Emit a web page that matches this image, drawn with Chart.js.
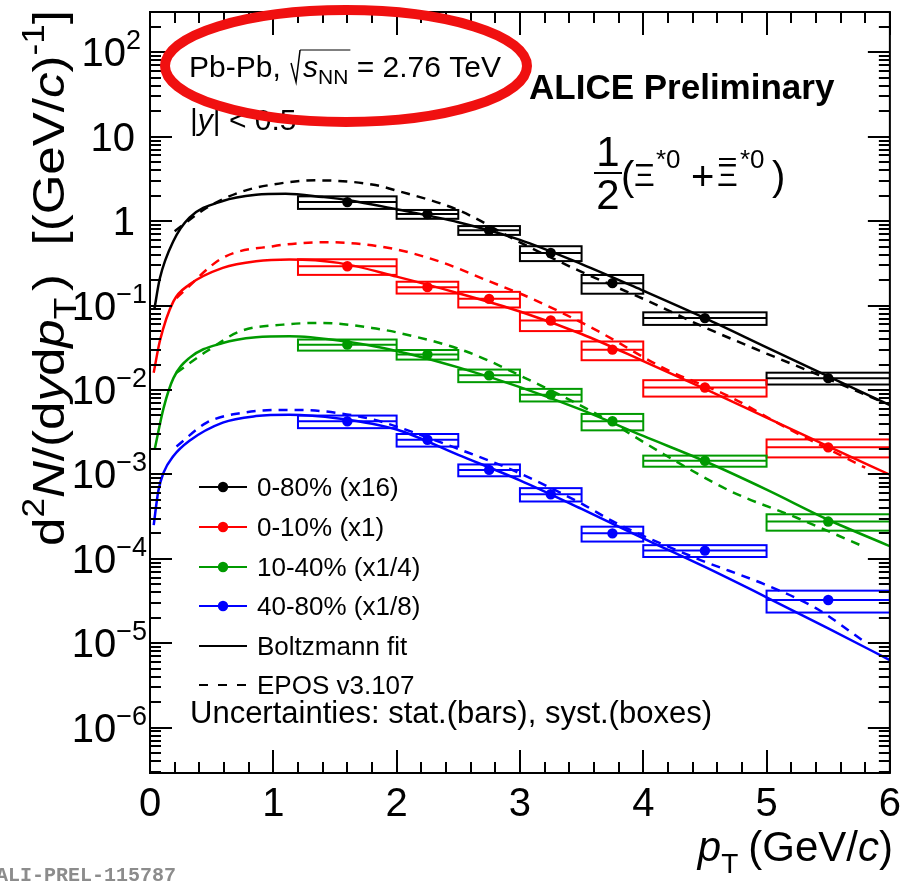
<!DOCTYPE html>
<html><head><meta charset="utf-8">
<script src="https://cdn.jsdelivr.net/npm/chart.js@4/dist/chart.umd.min.js"></script>
<style>html,body{margin:0;padding:0;background:#fff}#wrap{width:909px;height:883px;position:relative}</style>
</head><body><div id="wrap"><canvas id="c"></canvas></div>
<script>
// ---------------- data ----------------
const binLow  = [1.2, 2.0, 2.5, 3.0, 3.5, 4.0, 5.0];
const binHigh = [2.0, 2.5, 3.0, 3.5, 4.0, 5.0, 6.0];
const ptCenter = [1.6, 2.25, 2.75, 3.25, 3.75, 4.5, 5.5];

const y_0_80  = [1.68, 1.21, 0.78, 0.42, 0.184, 0.071, 0.0138];
const y_0_10  = [0.292, 0.165, 0.12, 0.0664, 0.030, 0.0107, 0.00209];
const y_10_40 = [0.0344, 0.0263, 0.0149, 0.0088, 0.00426, 0.00145, 0.000276];
const y_40_80 = [0.00425, 0.00257, 0.00113, 0.000582, 0.0002, 0.000125, 0.0000325];

const sys_0_80  = [0.17, 0.12, 0.12, 0.20, 0.25, 0.17, 0.16];
const sys_0_10  = [0.21, 0.16, 0.21, 0.25, 0.25, 0.22, 0.24];
const sys_10_40 = [0.15, 0.13, 0.17, 0.17, 0.22, 0.15, 0.22];
const sys_40_80 = [0.17, 0.17, 0.16, 0.18, 0.20, 0.16, 0.29];

const fitPt_0_80 = [0.035, 0.08, 0.19, 0.32, 0.59, 0.86, 1.1, 1.4, 1.6, 2.0, 2.5, 3.0, 3.5, 4.0, 4.5, 5.0, 5.5, 6.0];
const fit_0_80   = [0.09, 0.21, 0.58, 1.10, 1.73, 2.05, 2.11, 1.93, 1.78, 1.38, 0.97, 0.60, 0.31, 0.15, 0.071, 0.032, 0.0145, 0.0066];
const fitPt_0_10 = [0.03, 0.08, 0.19, 0.32, 0.59, 0.86, 1.13, 1.53, 2.0, 2.5, 3.0, 3.5, 4.0, 4.5, 5.0, 5.5, 6.0];
const fit_0_10   = [0.016, 0.038, 0.112, 0.177, 0.279, 0.335, 0.351, 0.32, 0.22, 0.14, 0.085, 0.046, 0.022, 0.0103, 0.0047, 0.00215, 0.00099];
const fitPt_10_40 = [0.04, 0.11, 0.19, 0.32, 0.59, 0.86, 1.13, 1.53, 2.0, 2.5, 3.0, 3.5, 4.0, 4.5, 5.0, 5.5, 6.0];
const fit_10_40   = [0.00204, 0.0061, 0.0138, 0.024, 0.036, 0.042, 0.0432, 0.0385, 0.029, 0.0185, 0.0108, 0.0058, 0.00285, 0.00143, 0.00066, 0.00029, 0.000141];
const fitPt_40_80 = [0.03, 0.067, 0.11, 0.19, 0.32, 0.59, 0.86, 1.13, 1.53, 2.0, 2.5, 3.0, 3.5, 4.0, 4.5, 5.0, 5.5, 6.0];
const fit_40_80   = [0.00025, 0.00063, 0.00105, 0.00165, 0.0025, 0.0041, 0.0049, 0.0051, 0.0046, 0.0034, 0.0017, 0.00085, 0.00039, 0.000175, 0.00008, 0.000035, 0.000015, 0.0000063];

const eposPt_0_80 = [0.2, 0.46, 0.73, 1.0, 1.35, 1.8, 2.0, 2.5, 3.0, 3.5, 4.0, 4.5, 5.0, 5.5, 5.95];
const epos_0_80   = [0.76, 1.44, 2.2, 2.72, 3.04, 2.72, 2.3, 1.35, 0.56, 0.25, 0.12, 0.055, 0.027, 0.0135, 0.0071];
const eposPt_0_10 = [0.215, 0.59, 1.0, 1.43, 1.94, 2.34, 2.75, 3.1, 3.63, 4.17, 4.71, 5.14, 5.63, 5.8];
const epos_0_10   = [0.123, 0.367, 0.505, 0.563, 0.48, 0.335, 0.194, 0.12, 0.05, 0.018, 0.0082, 0.0037, 0.0016, 0.0012];
const eposPt_10_40 = [0.215, 0.46, 0.73, 1.08, 1.4, 1.8, 2.02, 2.56, 3.1, 3.63, 4.17, 4.71, 5.25, 5.76];
const epos_10_40   = [0.016, 0.0287, 0.0495, 0.0594, 0.0623, 0.0542, 0.0474, 0.0287, 0.0126, 0.0051, 0.00172, 0.00063, 0.000304, 0.000145];
const eposPt_40_80 = [0.215, 0.46, 0.73, 1.08, 1.4, 1.8, 2.02, 2.5, 2.96, 3.5, 3.77, 4.44, 4.98, 5.4, 5.79];
const epos_40_80   = [0.00214, 0.0041, 0.0053, 0.0058, 0.0056, 0.0045, 0.0036, 0.0020, 0.00109, 0.00045, 0.00027, 0.0001, 0.00005, 0.000026, 0.0000105];

const seriesNames = ["0-80% (x16)", "0-10% (x1)", "10-40% (x1/4)", "40-80% (x1/8)"];
const xTicks = [0, 1, 2, 3, 4, 5, 6];
const yTickExps = [-6, -5, -4, -3, -2, -1, 0, 1, 2];

// ---------------- styling ----------------
const FONT = '"Liberation Sans", Arial, Helvetica, sans-serif';
const COLORS = ['#000000', '#ff0000', '#009a00', '#0000ff'];
const pts = [y_0_80, y_0_10, y_10_40, y_40_80];
const syss = [sys_0_80, sys_0_10, sys_10_40, sys_40_80];
const fits = [[fitPt_0_80, fit_0_80], [fitPt_0_10, fit_0_10], [fitPt_10_40, fit_10_40], [fitPt_40_80, fit_40_80]];
const eposs = [[eposPt_0_80, epos_0_80], [eposPt_0_10, epos_0_10], [eposPt_10_40, epos_10_40], [eposPt_40_80, epos_40_80]];
const zip = (xs, ys) => xs.map((x, i) => ({x: x, y: ys[i]}));

const datasets = [];
for (let s = 0; s < 4; s++) {
  datasets.push({type: 'line', data: zip(fits[s][0], fits[s][1]), borderColor: COLORS[s], borderWidth: 2.5,
    pointRadius: 0, fill: false, cubicInterpolationMode: 'monotone', order: 2});
  datasets.push({type: 'line', data: zip(eposs[s][0], eposs[s][1]), borderColor: COLORS[s], borderWidth: 2.5,
    borderDash: [9, 7], pointRadius: 0, fill: false, cubicInterpolationMode: 'monotone', order: 2});
  datasets.push({type: 'line', data: zip(ptCenter, pts[s]), showLine: false, pointRadius: 5.2,
    pointBackgroundColor: COLORS[s], pointBorderWidth: 0, borderColor: COLORS[s], order: 1});
}

function setFont(ctx, p, base) {
  ctx.font = (p.italic ? 'italic ' : '') + (p.bold ? 'bold ' : '') + (p.size || base) + 'px ' + (p.family || FONT);
}
function richWidth(ctx, parts, base) {
  let w = 0;
  for (const p of parts) { setFont(ctx, p, base); w += ctx.measureText(p.t).width + (p.gap || 0); }
  return w;
}
function drawRich(ctx, x, y, parts, base) {
  for (const p of parts) {
    setFont(ctx, p, base);
    ctx.fillText(p.t, x, y + (p.dy || 0));
    x += ctx.measureText(p.t).width + (p.gap || 0);
  }
  return x;
}

const rootPlugin = {
  id: 'rootStyle',
  beforeDatasetsDraw(chart) {
    const ctx = chart.ctx, xs = chart.scales.x, ys = chart.scales.y, a = chart.chartArea;
    ctx.save();
    ctx.beginPath(); ctx.rect(a.left, a.top, a.right - a.left, a.bottom - a.top); ctx.clip();
    ctx.lineWidth = 2;
    for (let s = 0; s < 4; s++) {
      ctx.strokeStyle = COLORS[s];
      for (let i = 0; i < ptCenter.length; i++) {
        const v = pts[s][i], e = syss[s][i];
        const x1 = xs.getPixelForValue(binLow[i]), x2 = xs.getPixelForValue(binHigh[i]);
        const yt = ys.getPixelForValue(v * (1 + e)), yb = ys.getPixelForValue(v * (1 - e));
        ctx.strokeRect(x1, yt, x2 - x1, yb - yt);
        const yc = ys.getPixelForValue(v);
        ctx.beginPath(); ctx.moveTo(x1, yc); ctx.lineTo(x2, yc); ctx.stroke();
      }
    }
    ctx.restore();
  },
  afterDatasetsDraw(chart) {
    const ctx = chart.ctx, xs = chart.scales.x, ys = chart.scales.y, a = chart.chartArea;
    ctx.save();
    ctx.strokeStyle = '#000'; ctx.fillStyle = '#000';
    // frame
    ctx.lineWidth = 2;
    ctx.strokeRect(a.left, a.top, a.right - a.left, a.bottom - a.top);
    // x ticks
    for (let k = 0; k <= 30; k++) {
      const v = k * 0.2, px = Math.round(xs.getPixelForValue(v));
      const L = (k % 5 === 0) ? 23 : 11;
      ctx.beginPath();
      ctx.moveTo(px, a.bottom); ctx.lineTo(px, a.bottom - L);
      ctx.moveTo(px, a.top); ctx.lineTo(px, a.top + L);
      ctx.stroke();
    }
    // y ticks
    for (let d = -7; d <= 2; d++) {
      for (let m = 1; m <= 9; m++) {
        const v = m * Math.pow(10, d);
        if (v < ys.min || v > ys.max) continue;
        const py = Math.round(ys.getPixelForValue(v));
        const L = (m === 1) ? 22 : 11;
        ctx.beginPath();
        ctx.moveTo(a.left, py); ctx.lineTo(a.left + L, py);
        ctx.moveTo(a.right, py); ctx.lineTo(a.right - L, py);
        ctx.stroke();
      }
    }
    // y tick labels
    ctx.textBaseline = 'alphabetic';
    for (const e of yTickExps) {
      const py = ys.getPixelForValue(Math.pow(10, e));
      let parts;
      if (e === 0) parts = [{t: '1'}];
      else if (e === 1) parts = [{t: '10'}];
      else parts = [{t: '10'}, {t: (e < 0 ? '\u2212' : '') + Math.abs(e), size: 27, dy: -17}];
      const right = e < 0 ? 147 : (e === 2 ? 141 : 135);
      const w = richWidth(ctx, parts, 40);
      drawRich(ctx, right - w, py + 14, parts, 40);
    }
    // y title (rotated, stretched along its length like the reference)
    {
      const parts = [
        {t: 'd'}, {t: '2', size: 31, dy: -20}, {t: 'N', italic: true}, {t: '/(d'}, {t: 'y', italic: true},
        {t: 'd'}, {t: 'p', italic: true}, {t: 'T', size: 31, dy: 12, gap: 6}, {t: ')  [(GeV/'}, {t: 'c', italic: true},
        {t: ')'}, {t: '-1', size: 31, dy: -20}, {t: ']'}
      ];
      ctx.save();
      ctx.translate(64, 546);
      ctx.rotate(-Math.PI / 2);
      const w = richWidth(ctx, parts, 45);
      ctx.scale(536 / w, 1);
      drawRich(ctx, 0, 0, parts, 45);
      ctx.restore();
    }
    // x title
    {
      const parts = [{t: 'p', italic: true}, {t: 'T', size: 28, dy: 12, gap: 10}, {t: '(GeV/'}, {t: 'c', italic: true}, {t: ')'}];
      const w = richWidth(ctx, parts, 42);
      drawRich(ctx, 893 - w, 861, parts, 42);
    }
    // ALI-PREL
    ctx.fillStyle = '#8c8c8c';
    ctx.font = 'bold 20px "Liberation Mono", monospace';
    ctx.fillText('ALI-PREL-115787', -4, 881);
    ctx.fillStyle = '#000';
    // Pb-Pb text
    {
      let x = drawRich(ctx, 189, 77, [{t: 'Pb-Pb, '}], 30);
      ctx.lineWidth = 1.5;
      const sx = x + 2;
      ctx.beginPath();
      ctx.moveTo(sx, 63); ctx.lineTo(sx + 5, 82); ctx.lineTo(sx + 9, 50);
      ctx.stroke();
      let x2 = drawRich(ctx, sx + 12, 77, [{t: 's', italic: true}, {t: 'NN', size: 21, dy: 7}], 30);
      ctx.lineWidth = 1;
      ctx.beginPath(); ctx.moveTo(sx + 9, 50); ctx.lineTo(x2 + 2, 50); ctx.stroke();
      drawRich(ctx, x2, 77, [{t: ' = 2.76 TeV'}], 30);
      drawRich(ctx, 190, 130, [{t: '|'}, {t: 'y', italic: true}, {t: '| < 0.5'}], 30);
    }
    // ALICE Preliminary
    drawRich(ctx, 529, 99, [{t: 'ALICE Preliminary', bold: true}], 35);
    // particle label
    {
      ctx.textAlign = 'center';
      ctx.font = '42px ' + FONT;
      ctx.fillText('1', 608, 166);
      ctx.fillText('2', 608, 209);
      ctx.textAlign = 'left';
      ctx.lineWidth = 2;
      ctx.beginPath(); ctx.moveTo(594, 173); ctx.lineTo(622, 173); ctx.stroke();
      drawRich(ctx, 621, 190, [{t: '(', size: 40}], 40);
      drawRich(ctx, 634, 186, [{t: '\u039E', size: 32}], 32);
      drawRich(ctx, 656, 168, [{t: '*0', size: 26}], 26);
      drawRich(ctx, 691, 190, [{t: '+', size: 40}], 40);
      const xe = drawRich(ctx, 717, 186, [{t: '\u039E', size: 32}], 32);
      ctx.lineWidth = 2;
      ctx.beginPath(); ctx.moveTo(719, 159); ctx.lineTo(xe - 2, 159); ctx.stroke();
      drawRich(ctx, 740, 168, [{t: '*0', size: 26}], 26);
      drawRich(ctx, 772, 190, [{t: ')', size: 40}], 40);
    }
    // legend
    {
      const rows = [487, 527, 567, 606];
      for (let s = 0; s < 4; s++) {
        const yc = rows[s];
        ctx.strokeStyle = COLORS[s]; ctx.fillStyle = COLORS[s]; ctx.lineWidth = 2;
        ctx.beginPath(); ctx.moveTo(199, yc); ctx.lineTo(247, yc); ctx.stroke();
        ctx.beginPath(); ctx.arc(223, yc, 5.2, 0, Math.PI * 2); ctx.fill();
        ctx.fillStyle = '#000';
        drawRich(ctx, 257, yc + 9, [{t: seriesNames[s]}], 26);
      }
      ctx.strokeStyle = '#000'; ctx.lineWidth = 2;
      ctx.beginPath(); ctx.moveTo(199, 646); ctx.lineTo(247, 646); ctx.stroke();
      drawRich(ctx, 257, 655, [{t: 'Boltzmann fit'}], 26);
      ctx.setLineDash([9, 10]);
      ctx.beginPath(); ctx.moveTo(199, 685); ctx.lineTo(247, 685); ctx.stroke();
      ctx.setLineDash([]);
      drawRich(ctx, 257, 694, [{t: 'EPOS v3.107'}], 26);
      drawRich(ctx, 190, 723, [{t: 'Uncertainties: stat.(bars), syst.(boxes)'}], 31);
    }
    // red ellipse annotation
    ctx.strokeStyle = '#f01010';
    ctx.lineWidth = 10;
    ctx.beginPath();
    ctx.ellipse(346, 66, 181, 56, 0, 0, Math.PI * 2);
    ctx.stroke();
    ctx.restore();
  }
};

new Chart(document.getElementById('c'), {
  type: 'line',
  data: {datasets: datasets},
  options: {
    responsive: true, maintainAspectRatio: false, animation: false,
    layout: {padding: {top: 12, right: 16, left: 0, bottom: 0}},
    plugins: {legend: {display: false}, tooltip: {enabled: false}},
    scales: {
      x: {type: 'linear', min: 0, max: 6,
        grid: {display: false, drawTicks: false}, border: {display: false},
        afterBuildTicks: (sc) => { sc.ticks = xTicks.map(v => ({value: v})); },
        afterFit: (sc) => { sc.height = 110; },
        ticks: {color: '#000', font: {family: FONT, size: 40}, padding: 8, maxRotation: 0, autoSkip: false,
          callback: (v) => String(v)}},
      y: {type: 'logarithmic', min: 2.9e-7, max: 300,
        grid: {display: false, drawTicks: false}, border: {display: false},
        afterFit: (sc) => { sc.width = 150; },
        ticks: {display: false}}
    }
  },
  plugins: [rootPlugin]
});
</script>
</body></html>
